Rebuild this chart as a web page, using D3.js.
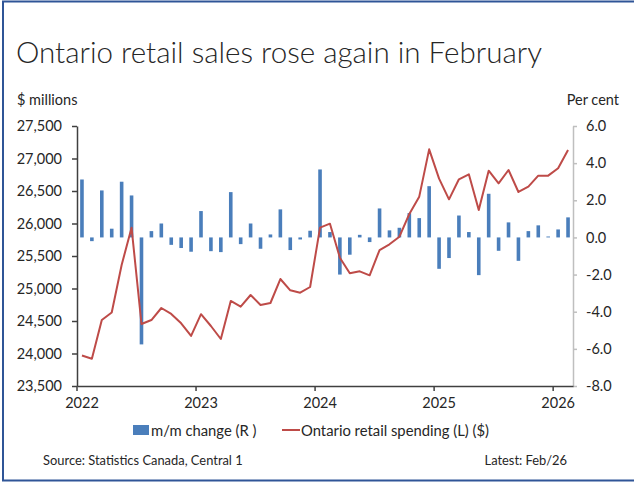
<!DOCTYPE html>
<html>
<head>
<meta charset="utf-8">
<script src="https://cdn.jsdelivr.net/npm/d3@7"></script>
<style>
  html, body { margin: 0; padding: 0; background: #fff; }
  svg { display: block; font-family: Lato, "Open Sans", sans-serif; }
</style>
</head>
<body>
<div id="chart"></div>
<script>
// Monthly categories, Jan 2022 through Feb 2026
const months = d3.timeMonth.range(new Date(2022, 0, 1), new Date(2026, 2, 1));

// Ontario retail spending, $ millions (left axis)
const retailSpending = [
  23970, 23920, 24515, 24630, 25362, 25936, 24454, 24515, 24700, 24608, 24465, 24270,
  24605, 24423, 24223, 24808, 24720, 24900, 24746, 24777, 25146, 24972, 24936, 25023,
  25936, 25997, 25474, 25234, 25264, 25203, 25592, 25680, 25797, 26146, 26413, 27141,
  26690, 26372, 26680, 26757, 26208, 26813, 26618, 26823, 26485, 26567, 26736, 26736,
  26849, 27131
];

// Month-over-month change, per cent (right axis)
const mmChange = [
  3.12, -0.20, 2.53, 0.47, 3.00, 2.26, -5.76, 0.34, 0.75, -0.40, -0.57, -0.77,
  1.42, -0.74, -0.79, 2.44, -0.36, 0.75, -0.61, 0.16, 1.51, -0.68, -0.11, 0.36,
  3.66, 0.29, -2.00, -0.93, 0.14, -0.25, 1.56, 0.38, 0.52, 1.31, 1.04, 2.76,
  -1.69, -1.11, 1.18, 0.29, -2.03, 2.35, -0.72, 0.81, -1.26, 0.34, 0.65, 0.05,
  0.43, 1.08
];

const leftTicks = [23500, 24000, 24500, 25000, 25500, 26000, 26500, 27000, 27500];
const rightTicks = [-8, -6, -4, -2, 0, 2, 4, 6];
const yearTicks = [2022, 2023, 2024, 2025, 2026];

const titleText = "Ontario retail sales rose again in February";
const leftUnit = "$ millions";
const rightUnit = "Per cent";
const legendBar = "m/m change (R )";
const legendLine = "Ontario retail spending (L) ($)";
const sourceText = "Source: Statistics Canada, Central 1";
const latestText = "Latest: Feb/26";

const W = 634, H = 483;
const plot = { left: 77, right: 573, top: 126, bottom: 386 };
const textColor = "#262626";
const barColor = "#4a7ebb";
const lineColor = "#be4b48";

const svg = d3.select("#chart").append("svg")
  .attr("width", W).attr("height", H);

svg.append("rect").attr("width", W).attr("height", H).attr("fill", "#fff");

// frame
const frame = svg.append("g").attr("stroke", "#2f5597").attr("fill", "none");
frame.append("line").attr("x1", 3).attr("x2", 3).attr("y1", 1).attr("y2", 481).attr("stroke-width", 2);
frame.append("line").attr("x1", 2).attr("x2", W).attr("y1", 1.5).attr("y2", 1.5).attr("stroke-width", 2);
frame.append("line").attr("x1", 2).attr("x2", W).attr("y1", 480.5).attr("y2", 480.5).attr("stroke-width", 2);

// title
svg.append("text")
  .attr("x", 16).attr("y", 62.5)
  .attr("font-size", 29).attr("font-weight", 300).attr("fill", textColor)
  .attr("textLength", 526).attr("lengthAdjust", "spacingAndGlyphs")
  .text(titleText);

svg.append("text").attr("x", 17).attr("y", 105)
  .attr("font-size", 14.5).attr("fill", textColor).text(leftUnit);
svg.append("text").attr("x", 619).attr("y", 105).attr("text-anchor", "end")
  .attr("font-size", 14.5).attr("fill", textColor).text(rightUnit);

// scales
const x = d3.scaleBand().domain(months).range([plot.left, plot.right]);
const yL = d3.scaleLinear().domain([23500, 27500]).range([plot.bottom, plot.top]);
const yR = d3.scaleLinear().domain([-8, 6]).range([plot.bottom, plot.top]);
const bw = x.bandwidth();
const barW = 3.6;

// bars (right axis)
svg.append("g").selectAll("rect")
  .data(months.map((m, i) => ({ m, v: mmChange[i] })))
  .join("rect")
  .attr("x", d => x(d.m) + bw / 2 - barW / 2)
  .attr("width", barW)
  .attr("y", d => yR(Math.max(0, d.v)))
  .attr("height", d => Math.abs(yR(d.v) - yR(0)))
  .attr("fill", barColor);

// left axis
const axL = svg.append("g")
  .attr("transform", `translate(${plot.left},0)`)
  .call(d3.axisLeft(yL).tickValues(leftTicks).tickSize(5).tickSizeOuter(0)
    .tickPadding(10).tickFormat(d3.format(",")));
axL.select(".domain").attr("stroke", "#404040").attr("stroke-width", 1.5);
axL.selectAll(".tick line").attr("stroke", "#404040").attr("stroke-width", 1.5);
axL.selectAll(".tick text").attr("font-size", 14.5).attr("fill", textColor)
  .attr("font-family", "Lato, sans-serif");

// right axis
const axR = svg.append("g")
  .attr("transform", `translate(${plot.right},0)`)
  .call(d3.axisRight(yR).tickValues(rightTicks).tickSize(4).tickSizeOuter(0)
    .tickPadding(9).tickFormat(d => d.toFixed(1)));
axR.select(".domain").attr("stroke", "#bfbfbf").attr("stroke-width", 1.5);
axR.selectAll(".tick line").attr("stroke", "#bfbfbf").attr("stroke-width", 1.5);
axR.selectAll(".tick text").attr("font-size", 14.5).attr("fill", textColor)
  .attr("font-family", "Lato, sans-serif");

// bottom axis: ticks between categories at each January, labels under January
const janMonths = yearTicks.map(y => months.find(m => m.getFullYear() === y && m.getMonth() === 0));
const axB = svg.append("g")
  .attr("transform", `translate(0,${plot.bottom})`)
  .call(d3.axisBottom(x).tickValues(janMonths).tickSize(5).tickSizeOuter(0)
    .tickPadding(7).tickFormat(d3.timeFormat("%Y")));
axB.select(".domain").attr("stroke", "#404040").attr("stroke-width", 1.5);
axB.selectAll(".tick line").attr("stroke", "#404040").attr("stroke-width", 1.5)
  .attr("x1", -bw / 2).attr("x2", -bw / 2);
axB.selectAll(".tick text").attr("font-size", 14.5).attr("fill", textColor)
  .attr("font-family", "Lato, sans-serif");

// retail spending line (left axis)
const line = d3.line()
  .x((d, i) => x(months[i]) + bw / 2)
  .y(d => yL(d));
svg.append("path")
  .datum(retailSpending)
  .attr("d", line)
  .attr("fill", "none")
  .attr("stroke", lineColor)
  .attr("stroke-width", 2)
  .attr("stroke-linejoin", "round");

// legend
const lg = svg.append("g").attr("font-size", 14.8).attr("fill", textColor);
lg.append("rect").attr("x", 133).attr("y", 425).attr("width", 16).attr("height", 10).attr("fill", barColor);
lg.append("text").attr("x", 151).attr("y", 435.5).text(legendBar);
lg.append("line").attr("x1", 282).attr("x2", 300).attr("y1", 430).attr("y2", 430)
  .attr("stroke", lineColor).attr("stroke-width", 2);
lg.append("text").attr("x", 301).attr("y", 435.5).text(legendLine);

// footer
svg.append("text").attr("x", 43).attr("y", 465).attr("font-size", 12.9).attr("fill", textColor).text(sourceText);
svg.append("text").attr("x", 567).attr("y", 465).attr("text-anchor", "end")
  .attr("font-size", 12.9).attr("fill", textColor).text(latestText);
</script>
</body>
</html>
